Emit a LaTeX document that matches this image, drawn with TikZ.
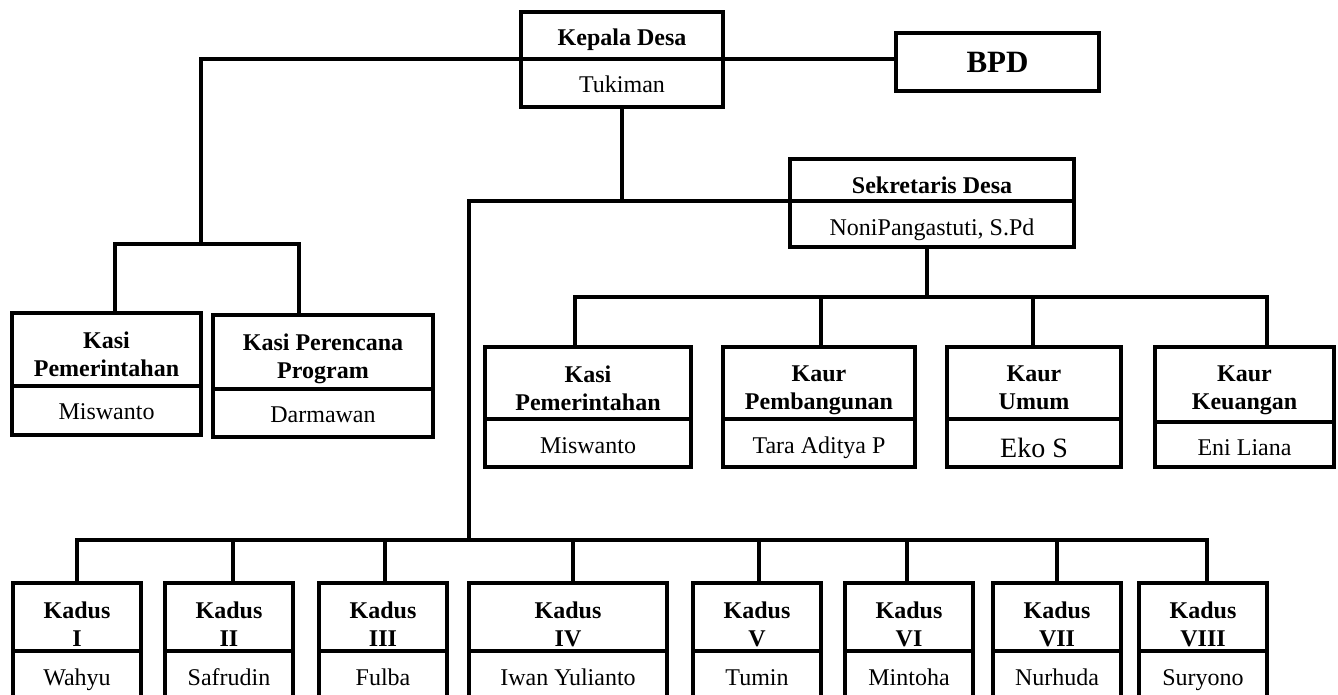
\documentclass[tikz,border=0pt]{standalone}
\usepackage{fontspec}
\setmainfont{Liberation Serif}
\begin{document}
\begin{tikzpicture}[x=1pt,y=-1pt,
  part/.style={draw, line width=3.3pt, inner sep=0pt, outer sep=0pt},
  hd/.style={font=\bfseries\fontsize{24}{28}\selectfont, inner sep=0pt, align=center},
  nm/.style={font=\fontsize{24}{28}\selectfont, inner sep=0pt},
  link/.style={line width=3.3pt, line cap=rect}]
\useasboundingbox (0,0) rectangle (1338,695);

% ---- boxes ----
\node[part, minimum width=202pt, minimum height=47pt] (kpU) at (622,35.5) {};
\node[part, minimum width=202pt, minimum height=48pt] (kpL) at (622,83) {};
\node[part, minimum width=203pt, minimum height=58pt] (bpd) at (997.5,62) {};
\node[part, minimum width=284pt, minimum height=42pt] (sekU) at (932,180) {};
\node[part, minimum width=284pt, minimum height=46pt] (sekL) at (932,224) {};
\node[part, minimum width=189pt, minimum height=73pt] (kplU) at (106.5,349.5) {};
\node[part, minimum width=189pt, minimum height=49pt] (kplL) at (106.5,410.5) {};
\node[part, minimum width=220pt, minimum height=74pt] (kppU) at (323,352) {};
\node[part, minimum width=220pt, minimum height=48pt] (kppL) at (323,413) {};
\node[part, minimum width=206pt, minimum height=72pt] (ksrU) at (588,383) {};
\node[part, minimum width=206pt, minimum height=48pt] (ksrL) at (588,443) {};
\node[part, minimum width=192pt, minimum height=72pt] (kpbU) at (819,383) {};
\node[part, minimum width=192pt, minimum height=48pt] (kpbL) at (819,443) {};
\node[part, minimum width=174pt, minimum height=72pt] (kumU) at (1034,383) {};
\node[part, minimum width=174pt, minimum height=48pt] (kumL) at (1034,443) {};
\node[part, minimum width=179pt, minimum height=75pt] (kkuU) at (1244.5,384.5) {};
\node[part, minimum width=179pt, minimum height=45pt] (kkuL) at (1244.5,444.5) {};

\foreach \i/\cx/\w/\num/\nama in {1/77/128/I/Wahyu, 2/229/128/II/Safrudin, 3/383/128/III/Fulba,
   4/568/198/IV/Iwan Yulianto, 5/757/128/V/Tumin, 6/909/128/VI/Mintoha,
   7/1057/128/VII/Nurhuda, 8/1203/128/VIII/Suryono}{
  \node[part, minimum width=\w pt, minimum height=68pt] (kd\i U) at (\cx,617) {};
  \node[part, minimum width=\w pt, minimum height=59pt] (kd\i L) at (\cx,680.5) {};
  \node[hd, anchor=north] (kd\i t) at (\cx,602) {Kadus\\\num};
  \node[nm, anchor=base] (kd\i n) at (\cx,685) {\nama};
}

% ---- texts ----
\node[hd, anchor=base] (kpt) at (622,46) {Kepala Desa};
\node[nm, anchor=base] (kpn) at (622,93) {Tukiman};
\node[font=\bfseries\fontsize{31}{34}\selectfont, inner sep=0pt, anchor=base] (bpdt) at (997.5,73) {BPD};
\node[hd, anchor=base] (sekt) at (932,194) {Sekretaris Desa};
\node[nm, anchor=base] (sekn) at (932,236) {NoniPangastuti, S.Pd};
\node[hd, anchor=north] (kplt) at (106.5,332) {Kasi\\Pemerintahan};
\node[nm, anchor=base] (kpln) at (106.5,419) {Miswanto};
\node[hd, anchor=north] (kppt) at (323,334) {Kasi Perencana\\Program};
\node[nm, anchor=base] (kppn) at (323,422) {Darmawan};
\node[hd, anchor=north] (ksrt) at (588,366) {Kasi\\Pemerintahan};
\node[nm, anchor=base] (ksrn) at (588,453) {Miswanto};
\node[hd, anchor=north] (kpbt) at (819,366) {Kaur\\Pembangunan};
\node[nm, anchor=base] (kpbn) at (819,453) {Tara Aditya P};
\node[hd, anchor=north] (kumt) at (1034,366) {Kaur\\Umum};
\node[font=\fontsize{28}{32}\selectfont, inner sep=0pt, anchor=base] (kumn) at (1034,457) {Eko S};
\node[hd, anchor=north] (kkut) at (1244.5,366) {Kaur\\Keuangan};
\node[nm, anchor=base] (kkun) at (1244.5,455) {Eni Liana};

% ---- connectors ----
\coordinate (jL) at (201,244);
\coordinate (jLa) at (115,244);
\coordinate (jLb) at (299,244);
\coordinate (jM) at (469,201);
\coordinate (jK) at (469,540);
\coordinate (jS) at (927,297);
\coordinate (sb1) at (575,297);
\coordinate (sb2) at (821,297);
\coordinate (sb3) at (1033,297);
\coordinate (sb4) at (1267,297);
\coordinate (kb1) at (77,540);
\coordinate (kb2) at (233,540);
\coordinate (kb3) at (385,540);
\coordinate (kb4) at (573,540);
\coordinate (kb5) at (759,540);
\coordinate (kb6) at (907,540);
\coordinate (kb7) at (1057,540);
\coordinate (kb8) at (1207,540);

\draw[link] (kpU.south east) -- (kpU.south east -| bpd.west);
\draw[link] (kpU.south west) -| (jL);
\draw[link] (jLa) -- (jLb);
\draw[link] (jLa) -- (jLa |- kplU.north);
\draw[link] (jLb) -- (jLb |- kppU.north);

\draw[link] (kpL.south) -- (kpL.south |- sekU.south);
\draw[link] (sekU.south west) -- (jM) -- (jK);
\draw[link] (kb1) -- (kb8);
\foreach \i in {1,...,8}{
  \draw[link] (kb\i) -- (kb\i |- kd\i U.north);
}

\draw[link] (jS |- sekL.south) -- (jS);
\draw[link] (sb1) -- (sb4);
\draw[link] (sb1) -- (sb1 |- ksrU.north);
\draw[link] (sb2) -- (sb2 |- kpbU.north);
\draw[link] (sb3) -- (sb3 |- kumU.north);
\draw[link] (sb4) -- (sb4 |- kkuU.north);
\end{tikzpicture}
\end{document}
